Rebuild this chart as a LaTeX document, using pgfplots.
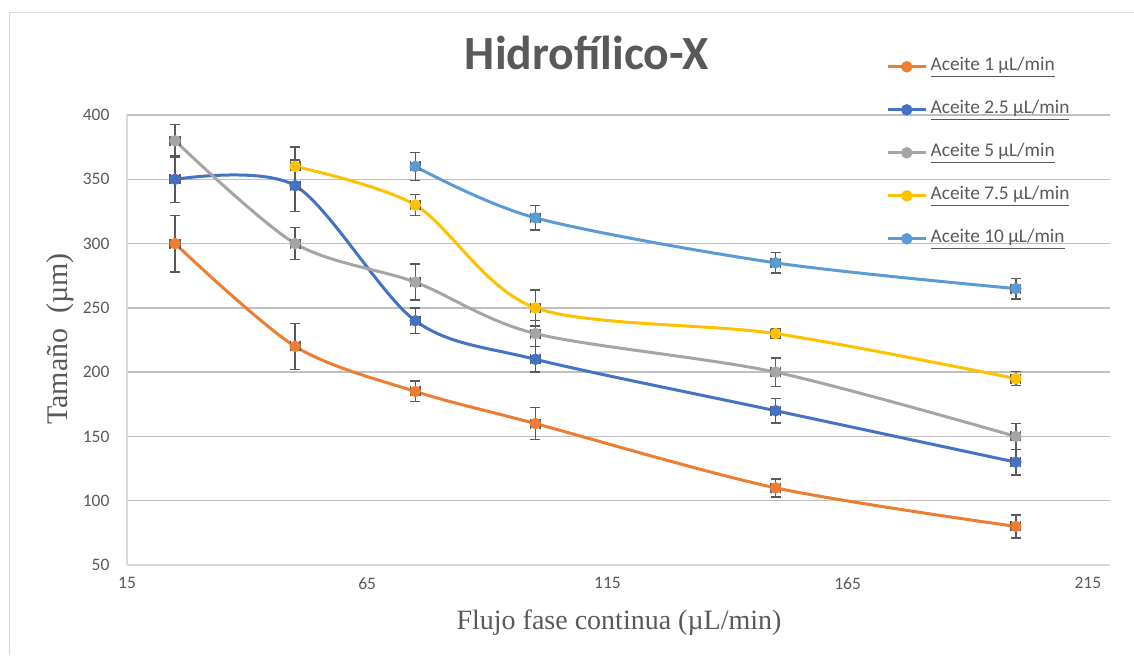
\documentclass[border=0pt]{standalone}
\usepackage{pgfplots}
\pgfplotsset{compat=1.18}
\usepackage{pgfplotstable}
\usepackage{fontspec}
\setmainfont{Liberation Serif}
\newfontfamily\calibri{Carlito}
\definecolor{cOr}{HTML}{ED7D31}
\definecolor{cBl}{HTML}{4472C4}
\definecolor{cGr}{HTML}{A5A5A5}
\definecolor{cYe}{HTML}{FFC000}
\definecolor{cLb}{HTML}{5B9BD5}
\definecolor{txt}{HTML}{595959}
\definecolor{grid}{HTML}{D9D9D9}
\definecolor{errc}{HTML}{595959}

\pgfplotstableread{
x y ey
25 300 22
50 220 18
75 185 8
100 160 12.5
150 110 7
200 80 9
}\sA
\pgfplotstableread{
x y ey
25 350 18
50 345 20
75 240 10
100 210 10
150 170 9.7
200 130 10
}\sB
\pgfplotstableread{
x y ey
25 380 12.5
50 300 12.5
75 270 14
100 230 10
150 200 11
200 150 10
}\sC
\pgfplotstableread{
x y ey
50 360 15
75 330 8
100 250 14
150 230 4
200 195 5.5
}\sD
\pgfplotstableread{
x y ey
75 360 11
100 320 9.5
150 285 8
200 265 8
}\sE

\pgfplotsset{myerr/.style={
  error bars/y dir=both, error bars/y explicit,
  error bars/x dir=both, error bars/x explicit,
  error bars/error bar style={errc, line width=0.9pt, solid},
  error bars/error mark options={errc, line width=0.9pt, mark size=3pt, rotate=90}}}

\begin{document}
\begin{tikzpicture}
\begin{scope}[x=0.6pt,y=0.6pt]
\useasboundingbox (0,0) rectangle (1134,655);
\draw[grid, line width=0.9pt] (1134,642.5) -- (9.5,642.5) -- (9.5,0);
\node[font=\calibri\bfseries\fontsize{28.6}{31}\selectfont, text=txt] at (587,602) {Hidrofílico-X};
\node[font=\fontsize{16.8}{19}\selectfont, text=txt] at (619,32) {Flujo fase continua (µL/min)};
\node[font=\fontsize{18}{20}\selectfont, text=txt, rotate=90] at (60,316) {Tamaño\ \ (µm)};
\end{scope}
\begin{axis}[
  at={(76.2pt,54pt)}, anchor=south west,
  scale only axis, width=589.8pt, height=270pt,
  xmin=15, xmax=219.6, ymin=50, ymax=400,
  xtick={15,65,115,165,215}, ytick={50,100,...,400},
  axis x line*=bottom, axis y line*=left,
  axis line style={grid, line width=0.9pt, -},
  major tick length=0pt, tick style={draw=none},
  xmajorgrids=false, ymajorgrids=true, grid style={grid, line width=0.9pt},
  ticklabel style={font=\calibri\fontsize{10.5}{12}\selectfont, text=txt},
  /pgf/number format/assume math mode=true,
  yticklabel style={xshift=-7pt},
  xticklabel style={yshift=-4pt},
  clip=false,
  legend cell align=left,
  legend style={at={(0.767,1.143)}, anchor=north west, draw=none, fill=none,
    font=\calibri\fontsize{11.6}{13}\selectfont, text=txt, row sep=10.8pt,
    nodes={text height=8pt, text depth=3pt, inner sep=2pt}},
  legend image code/.code={
    \draw[#1, mark=none] (0pt,0pt) -- (22.8pt,0pt);
    \draw[#1, only marks] plot coordinates {(11.4pt,0pt)};},
  every axis plot/.append style={smooth, line width=1.8pt, mark=*, mark size=2.5pt},
]
\addplot[color=cOr, mark options={fill=cOr, draw=cOr}, myerr] table[x=x, y=y, y error=ey, x error expr=1] {\sA};
\addplot[color=cBl, mark options={fill=cBl, draw=cBl}, myerr] table[x=x, y=y, y error=ey, x error expr=1] {\sB};
\addplot[color=cGr, mark options={fill=cGr, draw=cGr}, myerr] table[x=x, y=y, y error=ey, x error expr=1] {\sC};
\addplot[color=cYe, mark options={fill=cYe, draw=cYe}, myerr] table[x=x, y=y, y error=ey, x error expr=1] {\sD};
\addplot[color=cLb, mark options={fill=cLb, draw=cLb}, myerr] table[x=x, y=y, y error=ey, x error expr=1] {\sE};
\legend{\underline{Aceite 1 µL/min},\underline{Aceite 2.5 µL/min},\underline{Aceite 5 µL/min},\underline{Aceite 7.5 µL/min},\underline{Aceite 10 µL/min}}
\end{axis}
\end{tikzpicture}
\end{document}
